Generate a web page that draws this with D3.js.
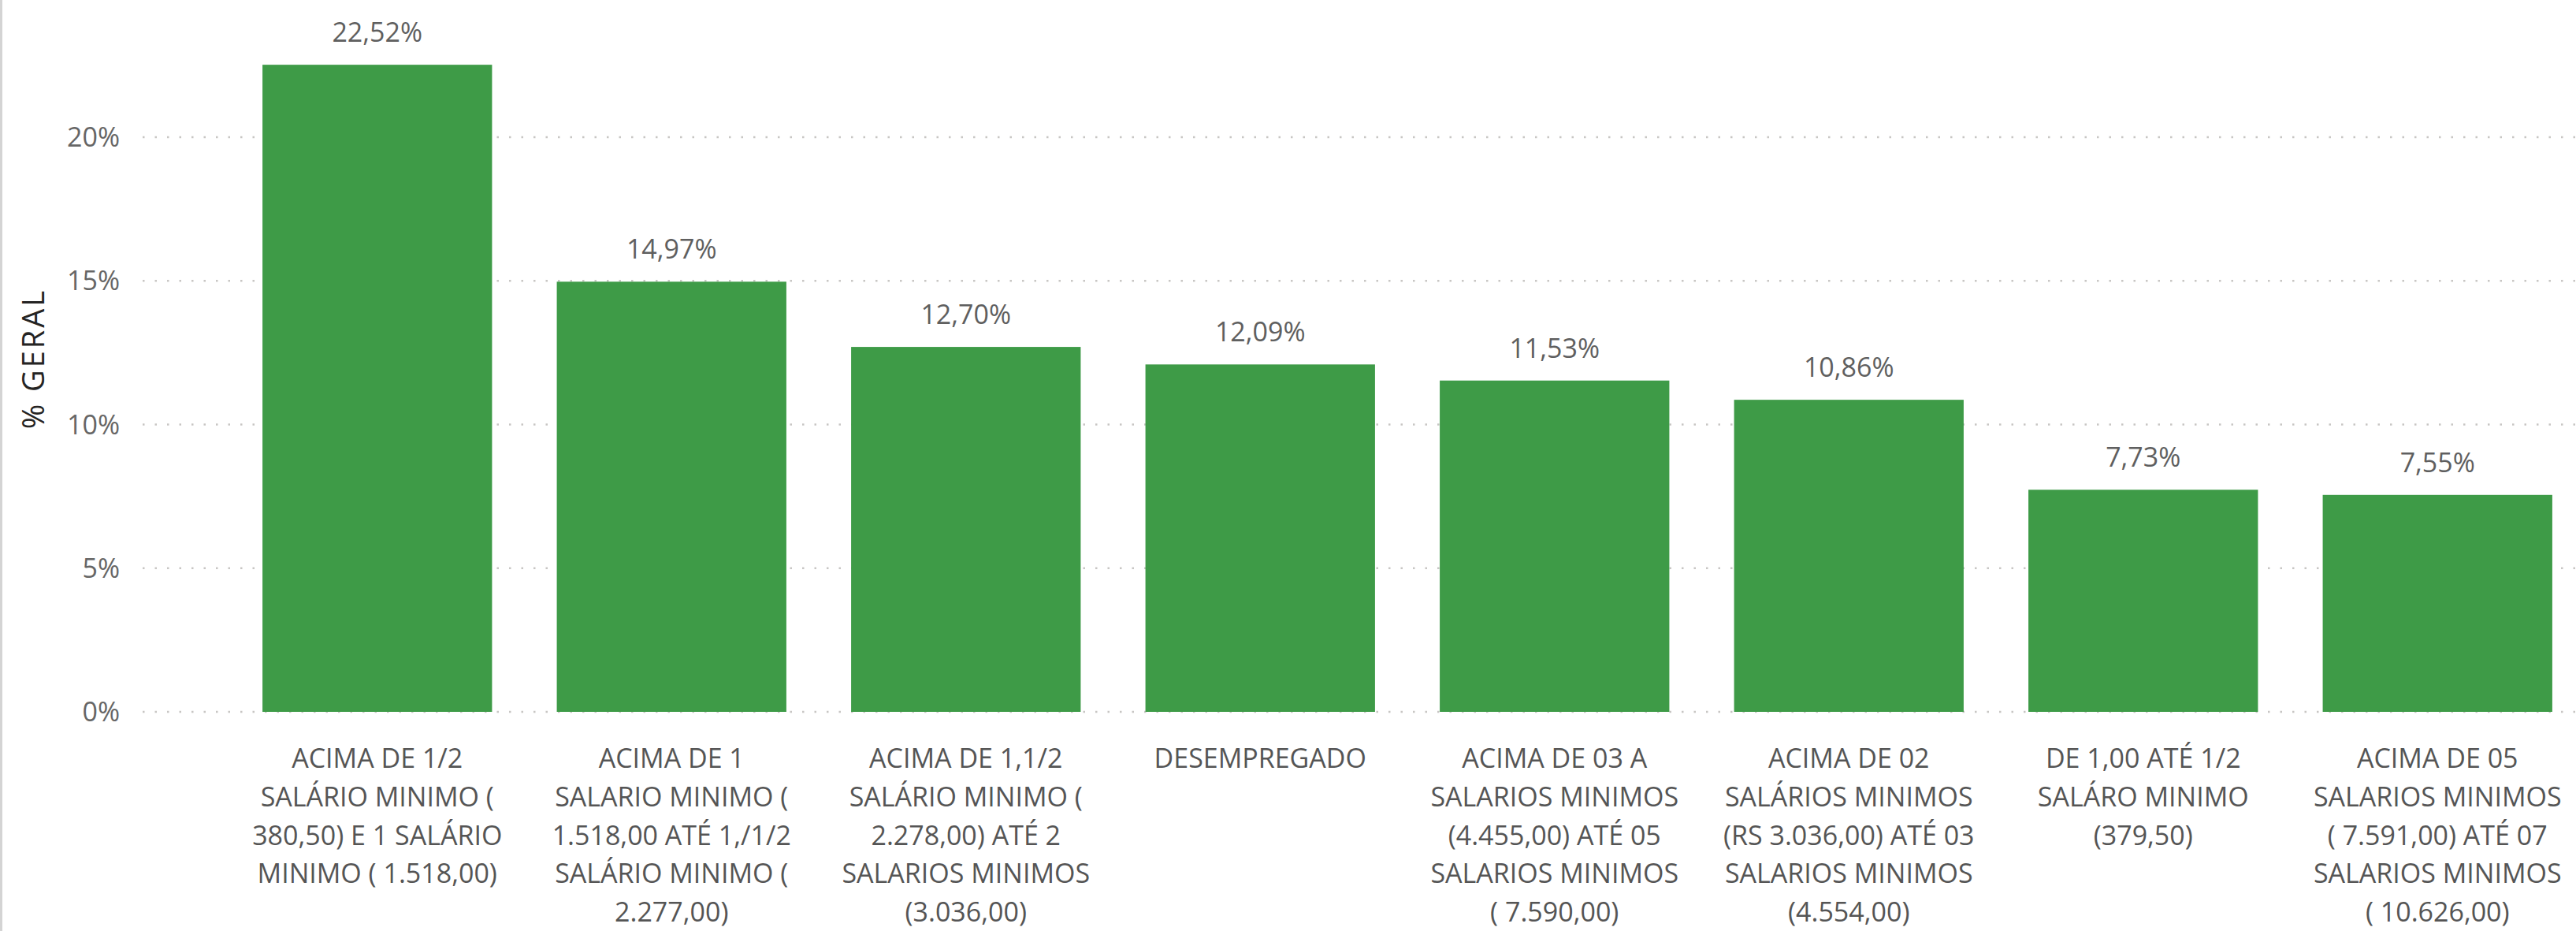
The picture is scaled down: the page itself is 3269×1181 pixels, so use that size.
<!DOCTYPE html>
<html>
<head>
<meta charset="utf-8">
<script src="https://cdn.jsdelivr.net/npm/d3@7"></script>
<style>
  html, body { margin: 0; padding: 0; background: #fff; overflow: hidden; }
  text { font-family: "Open Sans", "Noto Sans", sans-serif; }
</style>
</head>
<body>
<div id="app"></div>
<script>
const w = 3269;
const h = 1181;

//////////DATA//////////

const categories = [
  "ACIMA DE 1/2\nSALÁRIO MINIMO (\n380,50) E 1 SALÁRIO\nMINIMO ( 1.518,00)",
  "ACIMA DE 1\nSALARIO MINIMO (\n1.518,00 ATÉ 1,/1/2\nSALÁRIO MINIMO (\n2.277,00)",
  "ACIMA DE 1,1/2\nSALÁRIO MINIMO (\n2.278,00) ATÉ 2\nSALARIOS MINIMOS\n(3.036,00)",
  "DESEMPREGADO",
  "ACIMA DE 03 A\nSALARIOS MINIMOS\n(4.455,00) ATÉ 05\nSALARIOS MINIMOS\n( 7.590,00)",
  "ACIMA DE 02\nSALÁRIOS MINIMOS\n(RS 3.036,00) ATÉ 03\nSALARIOS MINIMOS\n(4.554,00)",
  "DE 1,00 ATÉ 1/2\nSALÁRO MINIMO\n(379,50)",
  "ACIMA DE 05\nSALARIOS MINIMOS\n( 7.591,00) ATÉ 07\nSALARIOS MINIMOS\n( 10.626,00)"
];

const percentGeral = [22.52, 14.97, 12.70, 12.09, 11.53, 10.86, 7.73, 7.55];

const yTicks = [0, 5, 10, 15, 20];

const yTitle = "% GERAL";

//////////SETUP//////////

const ptBR = d3.formatLocale({ decimal: ",", thousands: ".", grouping: [3], currency: ["R$", ""] });
const fmtValue = (v) => ptBR.format(".2f")(v) + "%";
const fmtTick = (v) => v + "%";

const svg = d3.select('#app')
  .append('svg')
  .attr('width', w)
  .attr('height', h);

const x = d3.scaleBand()
  .domain(categories)
  .range([292, 3280])
  .paddingInner(0.22)
  .paddingOuter(0.11);

const y = d3.scaleLinear()
  .domain([0, 20])
  .range([903, 174]);

// left frame edge
svg.append('rect')
  .attr('x', 0)
  .attr('y', 0)
  .attr('width', 3)
  .attr('height', h)
  .attr('fill', '#d4d4d4');

//////////GRID + Y AXIS//////////

const yAxis = svg.append('g')
  .attr('transform', 'translate(152,0)')
  .call(d3.axisLeft(y)
    .tickValues(yTicks)
    .tickFormat(fmtTick)
    .tickSize(0)
    .tickPadding(0));

yAxis.select('.domain').remove();

yAxis.selectAll('text')
  .attr('font-family', '"Open Sans", sans-serif')
  .attr('font-size', 34)
  .attr('fill', '#666666')
  .attr('dy', '0.34em');

svg.append('g')
  .selectAll('line')
  .data(yTicks)
  .enter()
  .append('line')
  .attr('x1', 181)
  .attr('x2', w)
  .attr('y1', (d) => y(d))
  .attr('y2', (d) => y(d))
  .attr('stroke', '#c8c6c4')
  .attr('stroke-width', 2.5)
  .attr('stroke-dasharray', '2.5,13');

svg.append('text')
  .attr('transform', 'translate(56,455) rotate(-90)')
  .attr('text-anchor', 'middle')
  .attr('font-size', 38)
  .attr('letter-spacing', 3)
  .attr('fill', '#252423')
  .text(yTitle);

//////////BARS//////////

const rows = categories.map((c, i) => ({ cat: c, value: percentGeral[i] }));

svg.append('g')
  .selectAll('rect')
  .data(rows)
  .enter()
  .append('rect')
  .attr('x', (d) => x(d.cat))
  .attr('y', (d) => y(d.value))
  .attr('width', x.bandwidth())
  .attr('height', (d) => y(0) - y(d.value))
  .attr('fill', '#3e9b47');

svg.append('g')
  .selectAll('text')
  .data(rows)
  .enter()
  .append('text')
  .attr('x', (d) => x(d.cat) + x.bandwidth() / 2)
  .attr('y', (d) => y(d.value) - 29)
  .attr('text-anchor', 'middle')
  .attr('font-size', 34)
  .attr('fill', '#5f5f5f')
  .text((d) => fmtValue(d.value));

//////////X LABELS//////////

const xLabels = svg.append('g')
  .selectAll('text')
  .data(categories)
  .enter()
  .append('text')
  .attr('text-anchor', 'middle')
  .attr('font-size', 34)
  .attr('fill', '#555555')
  .attr('x', (d) => x(d) + x.bandwidth() / 2)
  .attr('y', 974);

xLabels.selectAll('tspan')
  .data((d) => d.split('\n'))
  .enter()
  .append('tspan')
  .attr('x', function () { return this.parentNode.getAttribute('x'); })
  .attr('dy', (d, i) => i ? 48.8 : 0)
  .text((d) => d);
</script>
</body>
</html>
